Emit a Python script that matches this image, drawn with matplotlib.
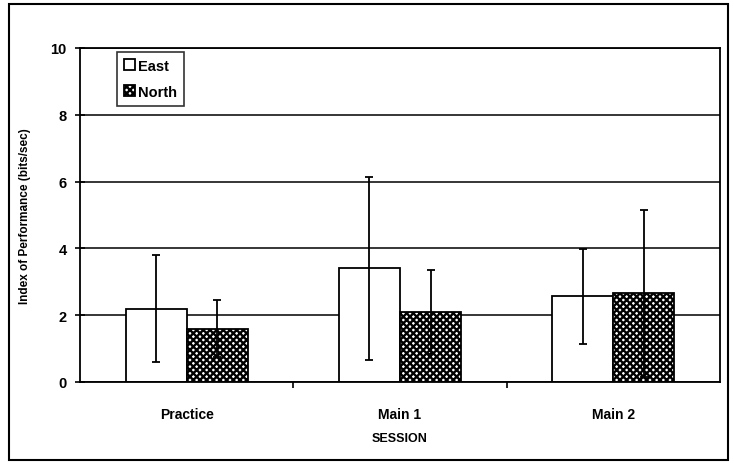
import numpy as np
import matplotlib.pyplot as plt
from matplotlib.patches import Rectangle

plt.rcParams['font.family'] = ['Liberation Sans Narrow', 'Liberation Sans', 'DejaVu Sans']
plt.rcParams['font.weight'] = 'bold'
plt.rcParams['axes.labelweight'] = 'bold'
plt.rcParams['hatch.linewidth'] = 1.7

# Data
sessions = ['Practice', 'Main 1', 'Main 2']
east_mean = [2.2, 3.4, 2.57]
east_err = [1.6, 2.75, 1.42]
north_mean = [1.6, 2.1, 2.65]
north_err = [0.85, 1.25, 2.5]

fig = plt.figure(figsize=(7.34, 4.64), dpi=100)
ax = fig.add_axes([80 / 734, 81 / 464, 640 / 734, 334 / 464])

# outer frame
fig.patches.append(Rectangle((9 / 734, 3 / 464), 719 / 734, 456 / 464, transform=fig.transFigure,
                             fill=False, edgecolor='black', linewidth=1.5))

x = np.arange(len(sessions))
w = 0.286
ax.bar(x - w / 2, east_mean, w, color='white', edgecolor='black', linewidth=1.3, label='East', zorder=2)
ax.bar(x + w / 2, north_mean, w, color='white', edgecolor='black', hatch='xxxxx', linewidth=1.3,
       label='North', zorder=2)
ax.errorbar(x - w / 2, east_mean, yerr=east_err, fmt='none', ecolor='black', elinewidth=1.3,
            capsize=3, capthick=1.3, zorder=3)
ax.errorbar(x + w / 2, north_mean, yerr=north_err, fmt='none', ecolor='black', elinewidth=1.3,
            capsize=3, capthick=1.3, zorder=3)

ax.set_xlim(-0.5, 2.5)
ax.set_ylim(0, 10)
ax.set_yticks([0, 2, 4, 6, 8, 10])
ax.yaxis.grid(True, color='black', linewidth=1.1)
ax.set_axisbelow(True)

ax.set_xticks([0.5, 1.5])
ax.set_xticklabels([])
ax.set_xticks(x, minor=True)
ax.set_xticklabels(sessions, minor=True, fontsize=10)
ax.tick_params(axis='x', which='minor', length=0, pad=18)
ax.tick_params(axis='x', which='major', direction='out', length=4, width=1.2)
ax.tick_params(axis='y', direction='inout', length=7, width=1.2, labelsize=10.5, pad=6)

for s in ax.spines.values():
    s.set_linewidth(1.3)

ax.set_xlabel('SESSION', fontsize=9, labelpad=8)
ax.set_ylabel('Index of Performance (bits/sec)', fontsize=8.5, labelpad=14)

leg = ax.legend(loc='upper left', bbox_to_anchor=(0.058, 0.988), fontsize=10.5, frameon=True,
                fancybox=False, edgecolor='black', handlelength=0.8, handleheight=0.8,
                handletextpad=0.2, borderpad=0.45, labelspacing=0.85, borderaxespad=0)
leg.get_frame().set_linewidth(1.2)

plt.savefig('out.png', dpi=100)
